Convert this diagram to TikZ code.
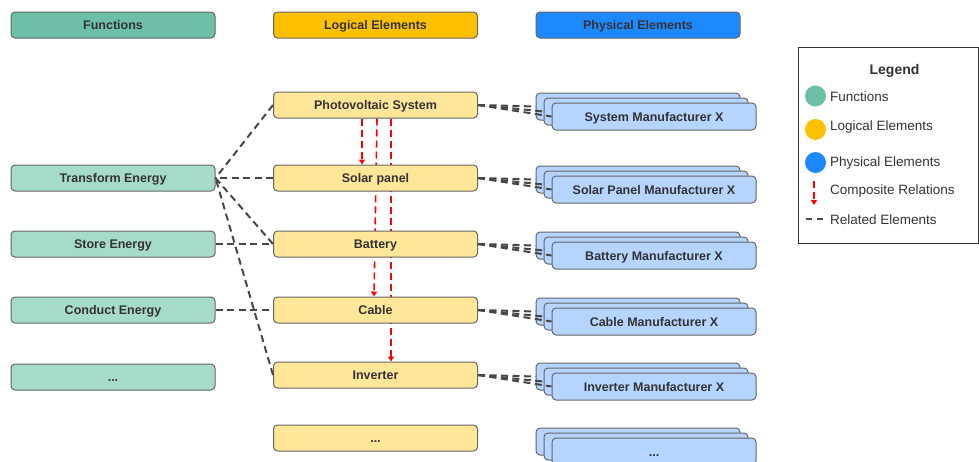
\documentclass[tikz,border=0pt]{standalone}
\usepackage{fontspec}
\setmainfont{Liberation Sans}
\usetikzlibrary{positioning,arrows.meta,backgrounds}

\definecolor{funcdark}{HTML}{6DBFA8}
\definecolor{funclight}{HTML}{A6DBCB}
\definecolor{logdark}{HTML}{FFC000}
\definecolor{loglight}{HTML}{FFE699}
\definecolor{physdark}{HTML}{1E88FF}
\definecolor{physlight}{HTML}{B5D4FF}
\definecolor{txt}{HTML}{333333}
\definecolor{edge}{HTML}{666666}

\newcommand{\moredots}{...}

\tikzset{
	elbox/.style={draw=edge, line width=1pt, rounded corners=4pt, minimum width=204pt, minimum height=26pt, inner sep=0pt, text height=9pt, text depth=0pt, text=txt, font=\fontsize{12.5}{14}\selectfont\bfseries},
	func/.style={elbox, fill=funclight},
	logic/.style={elbox, fill=loglight},
	phys/.style={elbox, fill=physlight, minimum height=27pt},
	related/.style={draw=black!72, line width=2pt, dash pattern=on 7pt off 4.5pt},
	composite/.style={draw=red, line width=1.6pt, dash pattern=on 7pt off 4pt, -{Triangle[width=6pt,length=5pt]}},
	legtext/.style={anchor=west, inner sep=0pt, text=txt, font=\fontsize{13.5}{15}\selectfont},
	legdot/.style={circle, minimum size=21pt, inner sep=0pt}
}

\begin{document}
\begin{tikzpicture}[x=1pt,y=-1pt]
			\useasboundingbox (0,0) rectangle (979,461);
			
			%%headers%%
			\node[elbox, fill=funcdark] (hFunc) at (113,25) {Functions};
			\node[elbox, fill=logdark] (hLog) at (375.5,25) {Logical Elements};
			\node[elbox, fill=physdark] (hPhys) at (638,25) {Physical Elements};
			
			%%functions%%
			\node[func] (fTrans) at (113,178) {Transform Energy};
			\node[func] (fStore) at (113,244) {Store Energy};
			\node[func] (fCond) at (113,310) {Conduct Energy};
			\node[func] (fMore) at (113,377) {\moredots};
			
			%%logical elements%%
			\node[logic] (lPV) at (375.5,105) {Photovoltaic System};
			\node[logic] (lSolar) at (375.5,178) {Solar panel};
			\node[logic] (lBat) at (375.5,244) {Battery};
			\node[logic] (lCable) at (375.5,310) {Cable};
			\node[logic] (lInv) at (375.5,375) {Inverter};
			\node[logic] (lMore) at (375.5,438) {\moredots};
			
			%%physical elements, three stacked boxes each%%
			\foreach \nm/\y/\txt in {Sys/106.5/System Manufacturer X, Solar/179.5/Solar Panel Manufacturer X, Bat/245.5/Battery Manufacturer X, Cable/311.5/Cable Manufacturer X, Inv/376.5/Inverter Manufacturer X, More/441.5/\moredots}{
				\node[phys] (p\nm1) at (638,\y) {};
				\node[phys] (p\nm2) at (646,\y+5) {};
				\node[phys] (p\nm3) at (654,\y+10) {\txt};
			}
			
			%%composite relations, behind the boxes%%
			\begin{scope}[on background layer]
				\draw[composite] ([xshift=-13.5pt]lPV.south) -- ([xshift=-13.5pt]lSolar.north);
				\draw[composite] ([xshift=1.5pt]lPV.south) -- ([xshift=-1.5pt]lCable.north);
				\draw[composite] ([xshift=15.5pt]lPV.south) -- ([xshift=15.5pt]lInv.north);
			\end{scope}
			
			%%related elements%%
			\draw[related] (lPV.west) -- (fTrans.east);
			\draw[related] (lSolar.west) -- (fTrans.east);
			\draw[related] (lBat.west) -- (fTrans.east);
			\draw[related] (lInv.west) -- (fTrans.east);
			\draw[related] (fStore.east) -- (lBat.west);
			\draw[related] (fCond.east) -- (lCable.west);
			
			\foreach \l/\p in {lPV/pSys, lSolar/pSolar, lBat/pBat, lCable/pCable, lInv/pInv}
				\foreach \k in {1,2,3}
					\draw[related] (\l.east) -- (\p\k.west);
			
			%%legend%%
			\draw[draw=txt, line width=0.8pt] (798,47) rectangle (978.5,243);
			\node[text=txt, font=\fontsize{14}{16}\selectfont\bfseries] (legTitle) at (894.5,71) {Legend};
			\node[legdot, fill=funcdark] (dFunc) at (815.5,96) {};
			\node[legdot, fill=logdark] (dLog) at (815.5,129.5) {};
			\node[legdot, fill=physdark] (dPhys) at (815.5,162.5) {};
			\node[legtext] (tFunc) at (830,96.5) {Functions};
			\node[legtext] (tLog) at (830,127.5) {Logical Elements};
			\node[legtext] (tPhys) at (830,163.5) {Physical Elements};
			\node[legtext] (tComp) at (830,191.5) {Composite Relations};
			\node[legtext] (tRel) at (830,219.5) {Related Elements};
			\coordinate (cmpA) at (814,181);
			\coordinate (cmpB) at (814,205);
			\draw[composite] (cmpA) -- (cmpB);
			\coordinate (relA) at (806,219);
			\coordinate (relB) at (824,219);
			\draw[related, dash pattern=on 6pt off 5pt] (relA) -- (relB);
\end{tikzpicture}
\end{document}
